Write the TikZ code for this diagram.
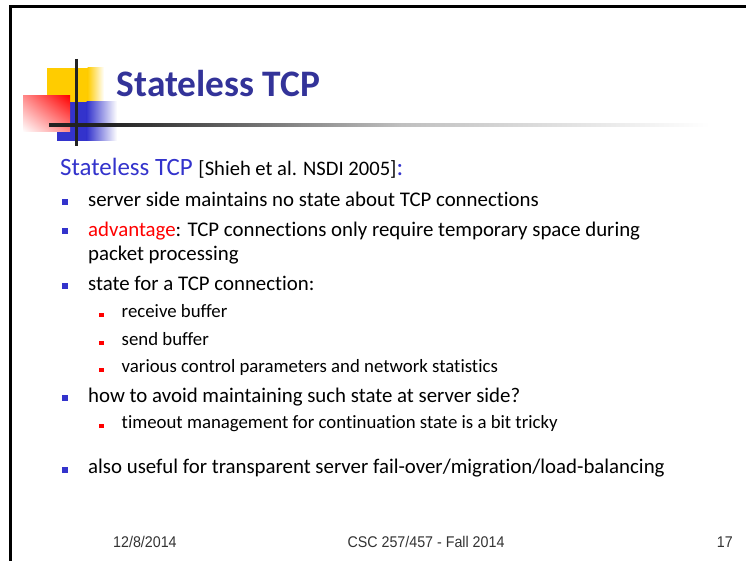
\documentclass[tikz,border=0pt]{standalone}
\usepackage{fontspec}
\usetikzlibrary{shadings}
\setmainfont{Carlito}[Ligatures=NoCommon]
\newfontfamily\footfont[FakeStretch=0.92]{Liberation Sans}
\definecolor{titleblue}{RGB}{51,51,153}
\definecolor{subblue}{RGB}{51,51,204}
\definecolor{gold}{RGB}{255,204,0}
\definecolor{linedark}{RGB}{34,34,34}
\tikzset{
  txt/.style={anchor=base west, inner sep=0pt, font=\fontsize{20.85}{25}\selectfont},
  subtxt/.style={anchor=base west, inner sep=0pt, font=\fontsize{18.8}{22}\selectfont},
  foot/.style={anchor=base, inner sep=0pt, text=black!80, font=\footfont\fontsize{15.5}{18}\selectfont},
  bbul/.style={fill=subblue},
  rbul/.style={fill=red}
}
\begin{document}
\begin{tikzpicture}[x=1pt,y=-1pt]
\useasboundingbox (0,0) rectangle (746,561);
\fill[white] (0,0) rectangle (746,561);
% frame
\draw[line width=3pt, black] (746,6.5) -| (10.5,561);
% logo
\fill[gold] (47,68) rectangle (88,110);
\shade[left color=gold, right color=white] (87.5,68) rectangle (104,110);
\fill[subblue] (57,102) rectangle (87,141);
\shade[left color=subblue, right color=white] (86.5,102) rectangle (117,141);
\shade[upper right=red, upper left=red!45, lower right=red!45, lower left=white] (23,96) rectangle (70,132);
\fill[linedark] (49,123.2) rectangle (110,126.8);
\shade[left color=linedark, right color=black!25] (109.5,123.2) rectangle (400,126.8);
\shade[left color=black!25, right color=white] (399.5,123.2) rectangle (710,126.8);
\draw[line width=3pt, linedark] (76,59) -- (76,146);
% title
\node[anchor=base west, inner sep=0pt, text=titleblue, font=\fontsize{37.4}{42}\selectfont\bfseries] (title) at (116.5,97) {Stateless TCP};
% subheading
\node[anchor=base west, inner sep=0pt] (sub) at (60,176) {\fontsize{24.9}{28}\selectfont\color{subblue}Stateless TCP \fontsize{20.6}{24}\selectfont\color{black}[Shieh et al. NSDI 2005]\fontsize{24.9}{28}\selectfont\color{subblue}:};
% main bullets
\fill[bbul] (62,199.5) rectangle (68,205.5);
\node[txt] (l1) at (88,207) {server side maintains no state about TCP connections};
\fill[bbul] (62,228.5) rectangle (68,234.5);
\node[txt] (l2) at (88,236.5) {\textcolor{red}{advantage}: TCP connections only require temporary space during};
\node[txt] (l2b) at (88,260.5) {packet processing};
\fill[bbul] (62,282.5) rectangle (68,288.5);
\node[txt] (l3) at (88,290.5) {state for a TCP connection:};
\fill[rbul] (99,312.5) rectangle (104,317);
\node[subtxt] (s1) at (121.5,317) {receive buffer};
\fill[rbul] (99,340.5) rectangle (104,345);
\node[subtxt] (s2) at (121.5,345) {send buffer};
\fill[rbul] (99,367.5) rectangle (104,372);
\node[subtxt] (s3) at (121.5,372) {various control parameters and network statistics};
\fill[bbul] (62,394.5) rectangle (68,400.5);
\node[txt] (l4) at (88,402) {how to avoid maintaining such state at server side?};
\fill[rbul] (99,423.5) rectangle (104,428);
\node[subtxt] (s4) at (121.5,428.5) {timeout management for continuation state is a bit tricky};
\fill[bbul] (62,466.5) rectangle (68,472.5);
\node[txt] (l5) at (88,473) {also useful for transparent server fail-over/migration/load-balancing};
% footer
\node[foot, anchor=base west] (f1) at (113,547) {12/8/2014};
\node[foot] (f2) at (426,547) {CSC 257/457 - Fall 2014};
\node[foot, anchor=base east] (f3) at (733,547) {17};
\end{tikzpicture}
\end{document}
